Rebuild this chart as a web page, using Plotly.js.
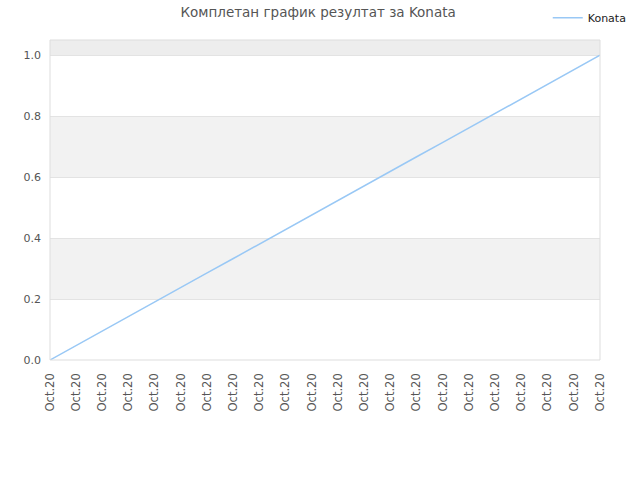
<!DOCTYPE html>
<html>
<head>
<meta charset="utf-8">
<script src="https://cdn.plot.ly/plotly-3.0.1.min.js"></script>
<style>
  body { margin: 0; padding: 0; background: #fff; }
  #chart { width: 640px; height: 480px; }
</style>
</head>
<body>
<div id="chart"></div>
<script>
// Results of one player over the rounds, all played in Oct.20
const round_index = [0, 1, 2, 3, 4, 5, 6, 7, 8, 9, 10, 11, 12, 13, 14, 15, 16, 17, 18, 19, 20, 21];
const round_labels = ['Oct.20', 'Oct.20', 'Oct.20', 'Oct.20', 'Oct.20', 'Oct.20', 'Oct.20', 'Oct.20',
    'Oct.20', 'Oct.20', 'Oct.20', 'Oct.20', 'Oct.20', 'Oct.20', 'Oct.20', 'Oct.20', 'Oct.20', 'Oct.20',
    'Oct.20', 'Oct.20', 'Oct.20', 'Oct.20'];
const konata_scores = [0.0, 0.048, 0.095, 0.143, 0.19, 0.238, 0.286, 0.333, 0.381, 0.429, 0.476,
    0.524, 0.571, 0.619, 0.667, 0.714, 0.762, 0.81, 0.857, 0.905, 0.952, 1.0];
const band_ranges = [[0.2, 0.4], [0.6, 0.8], [1.0, 1.2]];
const band_colors = ['#f2f2f2', '#f2f2f2', '#ededed'];

const text_color = '#555555';

const trace1 = {
    x: round_index,
    y: konata_scores,
    name: 'Konata',
    mode: 'lines',
    type: 'scatter',
    line: { color: '#99c8f5', width: 1.5 }
};

// alternating grey bands behind the line
const shapes = band_ranges.map((b, i) => {
    return {
        type: 'rect', layer: 'below',
        xref: 'paper', x0: 0, x1: 1,
        yref: 'y', y0: b[0], y1: b[1],
        fillcolor: band_colors[i], line: { width: 0 }
    };
});
shapes.push({
    type: 'rect', layer: 'above',
    xref: 'paper', x0: 0, x1: 1, yref: 'paper', y0: 0, y1: 1,
    line: { color: '#dddddd', width: 1 }
});

const layout = {
    width: 640,
    height: 480,
    margin: { l: 50, r: 40, t: 40, b: 120, autoexpand: false },
    paper_bgcolor: '#ffffff',
    plot_bgcolor: '#ffffff',
    font: { family: 'DejaVu Sans, sans-serif', size: 11, color: text_color },
    title: {
        text: 'Комплетан график резултат за Konata',
        font: { size: 13.5, color: text_color },
        x: 0.497, xanchor: 'center', y: 0.975, yanchor: 'middle'
    },
    showlegend: true,
    legend: {
        x: 0.905, xanchor: 'left', y: 1.115, yanchor: 'top',
        font: { size: 11, color: '#222222' },
        itemwidth: 30,
        bgcolor: 'rgba(0,0,0,0)'
    },
    xaxis: {
        range: [0, 21],
        tickmode: 'array',
        tickvals: round_index,
        ticktext: round_labels,
        tickangle: -90,
        showgrid: false,
        zeroline: false,
        showline: false,
        ticks: '',
        ticklabelstandoff: 10,
        tickfont: { size: 11.5, color: text_color }
    },
    yaxis: {
        range: [0, 1.05],
        tickvals: [0, 0.2, 0.4, 0.6, 0.8, 1.0],
        ticktext: ['0.0', '0.2', '0.4', '0.6', '0.8', '1.0'],
        showgrid: true,
        gridcolor: '#e3e3e3',
        gridwidth: 1,
        zeroline: false,
        showline: false,
        ticks: '',
        ticklabelstandoff: 8,
        tickfont: { size: 11, color: text_color }
    },
    shapes: shapes
};

const config = { responsive: false, displaylogo: false, staticPlot: true };

Plotly.newPlot('chart', [trace1], layout, config);
</script>
</body>
</html>
